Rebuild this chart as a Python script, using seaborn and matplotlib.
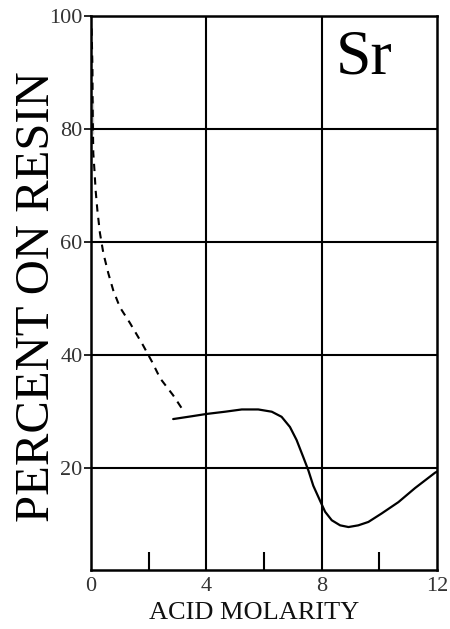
import matplotlib
matplotlib.use("Agg")
import matplotlib.pyplot as plt
import seaborn as sns
import pandas as pd

sns.set_theme(style="white")
plt.rcParams['font.family'] = ['Liberation Serif', 'DejaVu Serif']

# Dashed (extrapolated) branch
dash_x = [0.02, 0.05, 0.06, 0.06, 0.08, 0.12, 0.16, 0.22, 0.31, 0.43, 0.60, 0.77, 1.0, 1.35, 1.8, 2.12, 2.4, 2.85, 3.2]
dash_y = [97.8, 91.0, 85.1, 79.2, 75.7, 72.7, 69.2, 65.7, 61.6, 58.0, 54.5, 51.5, 48.5, 45.7, 41.8, 38.8, 35.9, 32.9, 30.2]

# Solid branch
solid_x = [2.85, 3.5, 4.0, 4.65, 5.23, 5.80, 6.27, 6.61, 6.90, 7.13, 7.36, 7.54, 7.71, 7.94, 8.12, 8.35, 8.64, 8.93, 9.27, 9.62, 10.08, 10.66, 11.24, 11.93, 12.0]
solid_y = [28.7, 29.2, 29.6, 30.0, 30.4, 30.4, 30.0, 29.1, 27.3, 25.0, 22.0, 19.6, 16.9, 14.3, 12.3, 10.8, 9.9, 9.6, 9.9, 10.5, 12.0, 14.0, 16.5, 19.2, 19.4]

x_ticks = [0, 4, 8, 12]
y_ticks = [20, 40, 60, 80, 100]
minor_x = [2, 6, 10]

fig = plt.figure(figsize=(4.5, 6.29), dpi=100)
ax = fig.add_axes([91/450, 59/629, 346/450, 554/629])

dash_df = pd.DataFrame({"x": dash_x, "y": dash_y})
solid_df = pd.DataFrame({"x": solid_x, "y": solid_y})
sns.lineplot(data=dash_df, x="x", y="y", ax=ax, sort=False, color="black",
             linewidth=1.5, linestyle=(0, (3.5, 3)), zorder=3)
sns.lineplot(data=solid_df, x="x", y="y", ax=ax, sort=False, color="black",
             linewidth=1.6, zorder=3)

ax.set_xlim(0, 12)
ax.set_ylim(2, 100)

for v in [4, 8]:
    ax.axvline(v, color="black", linewidth=1.5, zorder=1)
for v in [20, 40, 60, 80]:
    ax.axhline(v, color="black", linewidth=1.5, zorder=1)

ax.set_xticks(x_ticks)
ax.set_xticklabels([str(t) for t in x_ticks])
ax.set_yticks(y_ticks)
ax.set_yticklabels([str(t) for t in y_ticks])
ax.set_xticks(minor_x, minor=True)
ax.tick_params(axis="x", which="major", length=0, pad=5, labelsize=16, labelcolor="#333333")
ax.tick_params(axis="x", which="minor", direction="in", length=13, width=1.5, color="black", bottom=True)
ax.tick_params(axis="y", which="major", direction="out", length=5, width=1.2, color="black",
               left=True, pad=1, labelsize=16, labelcolor="#333333")

for s in ax.spines.values():
    s.set_color("black")
    s.set_linewidth(1.8)

ax.set_xlabel("ACID MOLARITY", fontsize=19, color="#111111")
ax.xaxis.set_label_coords(0.471, -0.057)
ax.set_ylabel("PERCENT ON RESIN", fontsize=35, color="black")
ax.yaxis.set_label_coords(-0.092, 0.493)

ax.text(0.79, 0.975, "Sr", transform=ax.transAxes, fontsize=46, ha="center", va="top", color="black")

fig.savefig("out.png", dpi=100)
